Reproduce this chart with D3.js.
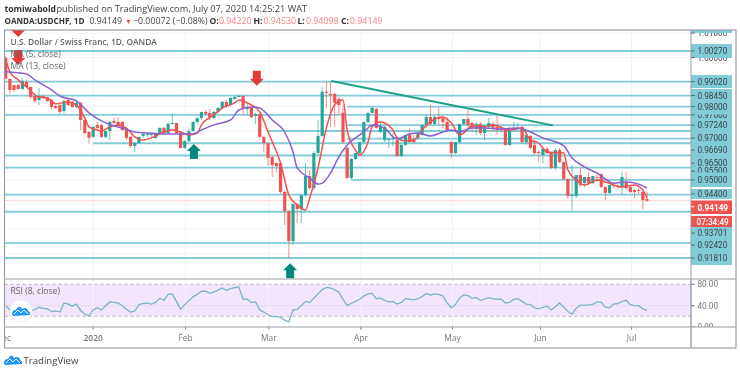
<!DOCTYPE html>
<html><head><meta charset="utf-8">
<script src="https://cdnjs.cloudflare.com/ajax/libs/d3/7.8.5/d3.min.js"></script>
<style>html,body{margin:0;padding:0;background:#fff}svg{display:block;font-family:"Open Sans",sans-serif;filter:blur(0.35px)}</style>
</head><body><svg id="c" width="740" height="373"></svg>
<script>
// Daily candles: open, high, low, close (in 1/10000 of a franc)
const ohlc=[[9999,10007,9913,9913],[9913,9913,9852,9868],[9888,9888,9860,9868],[9888,9892,9868,9872],[9872,9917,9868,9905],[9901,9909,9876,9880],[9880,9880,9831,9839],[9843,9843,9815,9823],[9827,9876,9806,9843],[9843,9847,9831,9839],[9839,9839,9819,9823],[9827,9831,9790,9798],[9802,9806,9790,9794],[9806,9811,9770,9778],[9782,9827,9774,9823],[9827,9835,9802,9806],[9819,9823,9794,9798],[9798,9823,9794,9815],[9815,9819,9704,9745],[9745,9745,9684,9692],[9696,9700,9647,9672],[9676,9721,9672,9717],[9725,9737,9704,9713],[9725,9729,9672,9676],[9676,9700,9672,9700],[9700,9741,9663,9737],[9741,9753,9729,9733],[9737,9757,9717,9721],[9737,9741,9700,9704],[9704,9704,9663,9672],[9676,9680,9631,9639],[9639,9655,9614,9651],[9651,9676,9647,9676],[9680,9696,9672,9688],[9684,9692,9676,9688],[9684,9696,9676,9688],[9672,9692,9668,9692],[9692,9713,9688,9713],[9713,9717,9684,9692],[9692,9737,9688,9729],[9729,9770,9725,9733],[9733,9733,9688,9692],[9692,9692,9627,9631],[9631,9663,9627,9659],[9659,9708,9655,9700],[9700,9741,9696,9737],[9737,9757,9729,9753],[9753,9778,9745,9778],[9778,9786,9766,9770],[9774,9790,9745,9757],[9753,9782,9749,9778],[9778,9799,9774,9794],[9794,9823,9790,9819],[9819,9827,9794,9802],[9806,9839,9802,9835],[9831,9843,9827,9839],[9839,9847,9839,9843],[9843,9847,9766,9795],[9790,9815,9766,9794],[9795,9799,9752,9757],[9762,9774,9729,9770],[9770,9770,9672,9676],[9676,9680,9614,9651],[9651,9651,9558,9590],[9594,9598,9512,9561],[9569,9573,9532,9557],[9569,9573,9443,9451],[9451,9455,9316,9373],[9373,9377,9181,9250],[9250,9402,9234,9402],[9402,9406,9324,9381],[9381,9438,9324,9438],[9438,9569,9430,9516],[9516,9541,9459,9467],[9467,9618,9459,9610],[9610,9745,9602,9680],[9680,9880,9676,9860],[9860,9901,9794,9856],[9852,9905,9717,9847],[9852,9856,9717,9815],[9831,9839,9766,9806],[9774,9806,9647,9655],[9631,9635,9504,9508],[9508,9590,9500,9586],[9586,9610,9582,9610],[9610,9655,9606,9655],[9655,9737,9651,9737],[9737,9774,9733,9774],[9774,9802,9770,9794],[9790,9794,9709,9713],[9696,9733,9692,9717],[9663,9721,9655,9717],[9663,9668,9631,9668],[9668,9692,9639,9672],[9663,9672,9594,9598],[9598,9647,9594,9643],[9643,9684,9639,9684],[9684,9713,9651,9655],[9663,9684,9647,9655],[9672,9700,9663,9692],[9684,9725,9680,9725],[9725,9766,9713,9757],[9757,9807,9723,9729],[9729,9766,9725,9757],[9753,9798,9725,9749],[9753,9757,9712,9737],[9737,9757,9696,9704],[9655,9659,9590,9610],[9610,9655,9606,9655],[9655,9729,9651,9729],[9729,9749,9725,9749],[9749,9786,9717,9725],[9733,9737,9696,9713],[9708,9737,9684,9729],[9729,9737,9684,9692],[9692,9725,9663,9721],[9717,9753,9712,9733],[9729,9737,9696,9713],[9717,9762,9684,9704],[9708,9721,9696,9704],[9708,9712,9639,9643],[9643,9717,9639,9704],[9704,9737,9700,9713],[9708,9733,9704,9712],[9717,9721,9647,9655],[9655,9684,9643,9684],[9680,9684,9627,9631],[9643,9663,9602,9610],[9614,9622,9573,9610],[9602,9627,9569,9627],[9627,9635,9606,9610],[9610,9614,9545,9549],[9549,9631,9541,9622],[9622,9631,9569,9573],[9573,9577,9500,9504],[9504,9508,9422,9434],[9434,9561,9373,9438],[9434,9520,9426,9520],[9520,9549,9471,9479],[9487,9512,9471,9512],[9512,9532,9483,9487],[9487,9516,9483,9516],[9512,9532,9491,9508],[9524,9528,9467,9471],[9471,9475,9418,9447],[9447,9479,9442,9479],[9479,9491,9467,9475],[9475,9483,9463,9471],[9471,9532,9438,9512],[9491,9532,9459,9467],[9471,9475,9447,9451],[9459,9463,9426,9451],[9459,9467,9442,9455],[9451,9455,9381,9418],[9422,9453,9410,9415]];
const ma13Bars=[0,5,7,11,13,17,20,24,28,31,34,38,43,45,47,50,54,56,59,61,62,64,67,69,70,73,75,76,78,80,82,84,85,87,88,91,93,94,97,99,102,105,107,109,112,115,119,123,126,129,134,136,139,142,146,149,152,154];
const ma13Vals=[9942,9933,9909,9868,9843,9823,9774,9733,9712,9696,9692,9688,9688,9688,9704,9725,9745,9786,9798,9794,9782,9745,9696,9614,9549,9508,9483,9487,9528,9594,9643,9672,9684,9712,9725,9712,9676,9668,9688,9692,9680,9696,9704,9696,9712,9712,9708,9712,9696,9672,9639,9590,9553,9528,9487,9492,9483,9467];
const ma5Bars=[0,1,3,5,8,10,12,15,17,19,20,22,23,25,27,29,31,33,35,38,40,42,44,46,47,50,52,55,56,58,61,63,66,68,70,72,73,75,77,79,81,82,84,85,87,88,90,93,94,96,98,100,102,105,107,109,110,112,115,117,121,124,126,128,130,134,135,137,139,142,144,148,151,153,154];
const ma5Vals=[9991,9942,9909,9880,9839,9835,9811,9819,9806,9753,9717,9704,9700,9717,9725,9712,9676,9663,9672,9696,9704,9696,9684,9692,9725,9766,9794,9815,9827,9815,9778,9696,9569,9438,9398,9377,9426,9549,9712,9807,9827,9704,9622,9602,9655,9717,9737,9704,9672,9659,9663,9704,9737,9757,9733,9684,9692,9721,9717,9725,9704,9712,9663,9651,9614,9610,9541,9500,9479,9500,9492,9471,9479,9459,9426];
const rsiVals=[40,32,29,27,26,27,30,33,37,35,34,29,30,28,45,43,39,43,31,24,21,32,36,32,40,47,46,45,40,33,28,30,42,44,45,43,46,54,50,61,62,48,33,42,49,57,61,67,67,63,66,69,73,69,72,74,75,52,52,46,47,32,28,23,19.5,19.5,18,13,9.5,32,33,40,48,46,54,62,70,74,73,70,65,52,40,44,48,52,58,62,63,53,54,50,47,48,43,46,53,52,51,53,57,63,60,62,61,58,45,36,42,54,60,59,54,55,50,52,55,53,52,52,45,46,52,53,48,43,42,36,34,37,39,32,38,45,37,29,24,35,41,41,41,43,47,46,37,36,43,44,48,50,42,40,40,34,31];
const levelPrices=[10027,9902,9845,9800,9766,9724,9700,9669,9650,9600,9550,9500,9440,9370,9242,9181];
const levelStartBars=[0,0,0,82,0,82,63,82,21,0,0,83,0,0,0,0];
const gridPrices=[10100,10000,9900,9800,9700,9600,9500,9400,9300,9200];
const axisLabels=["1.01000","1.00000","0.97660","0.95500","1.00270","0.99020","0.98450","0.98000","0.97240","0.97000","0.96690","0.96500","0.95000","0.94400","0.93701","0.92420","0.91810"];
const axisLabelAt=[10100,10000,9766,9536,10027,9902,9845,9800,9724,9671,9622,9569,9500,9443,9283,9234,9181];
const timeLabels=["Dec","2020","Feb","Mar","Apr","May","Jun","Jul"];
const timeBars=[-0.5,21,43.2,63.2,85.3,107.3,128.4,150.3];
const rsiTicks=[80,40,0];
const downArrowBars=[3,3,60.3], downArrowPrices=[10084,9970,9885];
const upArrowBars=[45.2,68.3], upArrowPrices=[9647,9160];
const trendBars=[78.2,131.4], trendPrices=[9904,9723];
const lastPrice=9414.9;

const L={left:4.5,right:736,axis:691,top:30,sep:279,rsiBottom:327,bottom:348};
const TEAL="#82cbd9",RED="#ef5350",GREEN="#26a69a",ARROWG="#00897b",GRID="#eef4f7",FRAME="#9a9da6";
const AXF='Roboto,sans-serif';
const svg=d3.select("#c");
const defs=svg.append("defs");
defs.append("clipPath").attr("id","mainClip").append("rect").attr("x",L.left).attr("y",L.top).attr("width",L.axis-L.left).attr("height",L.sep-L.top);
defs.append("clipPath").attr("id","timeClip").append("rect").attr("x",L.left).attr("y",L.rsiBottom).attr("width",L.axis-L.left).attr("height",L.bottom-L.rsiBottom);
defs.append("clipPath").attr("id","axisClip").append("rect").attr("x",L.axis).attr("y",L.top).attr("width",L.right-L.axis).attr("height",L.sep-L.top);
defs.append("clipPath").attr("id","rsiAxisClip").append("rect").attr("x",L.axis).attr("y",L.sep).attr("width",L.right-L.axis).attr("height",L.rsiBottom-L.sep);

const x=d3.scaleLinear().domain([0,ohlc.length-1]).range([5.7,647]);
const y=d3.scaleLinear().domain([10027,9181]).range([51,258]);
const yR=d3.scaleLinear().domain([80,0]).range([284.3,327]);

// header
const h=svg.append("g").attr("font-size",9.2).attr("fill","#444");
function tx(g,s,px,py,o={}){const t=g.append("text").attr("x",px).attr("y",py).text(s);Object.entries(o).forEach(([k,v])=>t.attr(k,v));return t;}
tx(h,"tomiwabold",4.5,11.5,{"font-weight":700,fill:"#333","font-size":8.6});
tx(h,"published on TradingView.com, July 07, 2020 14:25:21 WAT",56.5,11.5);
tx(h,"OANDA:USDCHF, 1D",4.5,23.5,{"font-weight":700,fill:"#333","font-size":8.1});
tx(h,"0.94149",89.5,23.5,{"font-size":8.8});
tx(h,"▼",125,23.5,{fill:"#ef5350","font-size":7});
tx(h,"−0.00072 (−0.08%)",133,23.5,{"font-size":8.8});
[["O:",209.5,"0.94220",219],["H:",253.5,"0.94530",263.5],["L:",297.5,"0.94098",306],["C:",341,"0.94149",350]].forEach(d=>{
  tx(h,d[0],d[1],23.5,{"font-weight":700,fill:"#333","font-size":8.6});tx(h,d[2],d[3],23.5,{fill:"#fb7f7f","font-size":8.8});
});

// panes: RSI band, grid
const band=svg.append("g");
band.append("rect").attr("x",L.left).attr("width",L.axis-L.left).attr("y",yR(80)).attr("height",yR(20)-yR(80)).attr("fill","#f3e6fc");
const grid=svg.append("g").attr("stroke",GRID).attr("stroke-width",1);
grid.selectAll("line.v").data(timeBars.slice(1)).join("line").attr("x1",d=>x(d)).attr("x2",d=>x(d)).attr("y1",L.top).attr("y2",L.rsiBottom);
grid.selectAll("line.h").data(gridPrices).join("line").attr("x1",L.left).attr("x2",L.axis).attr("y1",d=>y(d)).attr("y2",d=>y(d));
band.append("line").attr("x1",L.left).attr("x2",L.axis).attr("y1",yR(40)).attr("y2",yR(40)).attr("stroke","#e6daf2");
[80,20].forEach(v=>band.append("line").attr("x1",L.left).attr("x2",L.axis).attr("y1",yR(v)).attr("y2",yR(v)).attr("stroke","#b5adb9").attr("stroke-dasharray","3 3"));

const main=svg.append("g").attr("clip-path","url(#mainClip)");
// horizontal levels
main.selectAll("line.l").data(levelPrices).join("line")
 .attr("x1",(d,i)=>levelStartBars[i]===0?L.left:x(levelStartBars[i])).attr("x2",L.axis)
 .attr("y1",d=>y(d)).attr("y2",d=>y(d)).attr("stroke",TEAL).attr("stroke-width",1.8);
// last price
main.append("line").attr("x1",L.left).attr("x2",L.axis).attr("y1",y(lastPrice)).attr("y2",y(lastPrice)).attr("stroke","#f6a5a3").attr("stroke-width",1).attr("stroke-dasharray","1 1");
// candles
const col=d=>d[3]>=d[0]?GREEN:RED;
main.selectAll("line.w").data(ohlc).join("line").attr("x1",(d,i)=>x(i)).attr("x2",(d,i)=>x(i)).attr("y1",d=>y(d[1])).attr("y2",d=>y(d[2])).attr("stroke",col).attr("stroke-opacity",.65).attr("stroke-width",1);
main.selectAll("rect.b").data(ohlc).join("rect").attr("x",(d,i)=>x(i)-1.6).attr("width",3.2).attr("y",d=>y(Math.max(d[0],d[3]))).attr("height",d=>Math.max(1,Math.abs(y(d[0])-y(d[3])))).attr("fill",col);
// moving averages
const ml=(bars,vals)=>d3.line().x((d,i)=>x(bars[i])).y(d=>y(d)).curve(d3.curveMonotoneX)(vals);
main.append("path").attr("d",ml(ma5Bars,ma5Vals)).attr("fill","none").attr("stroke","#f0524f").attr("stroke-width",1.5);
main.append("path").attr("d",ml(ma13Bars,ma13Vals)).attr("fill","none").attr("stroke","#8a5fcf").attr("stroke-width",1.5);
// trend line
main.append("line").attr("x1",x(trendBars[0])).attr("x2",x(trendBars[1])).attr("y1",y(trendPrices[0])).attr("y2",y(trendPrices[1])).attr("stroke","#1fa088").attr("stroke-width",2);
// arrows
function arrowD(dir){return dir>0?"M0,0 L-7,-7 L-4,-7 L-4,-15 L4,-15 L4,-7 L7,-7 Z":"M0,0 L-7,7 L-4,7 L-4,15 L4,15 L4,7 L7,7 Z";}
main.selectAll("path.dn").data(downArrowBars).join("path").attr("transform",(d,i)=>`translate(${x(d)},${y(downArrowPrices[i])})`).attr("d",arrowD(1)).attr("fill","#e53935");
main.selectAll("path.up").data(upArrowBars).join("path").attr("transform",(d,i)=>`translate(${x(d)},${y(upArrowPrices[i])})`).attr("d",arrowD(-1)).attr("fill",ARROWG);
// pane legends
const lg=svg.append("g").attr("font-size",8.6).attr("fill","#666");
tx(lg,"U.S. Dollar / Swiss Franc, 1D, OANDA",10.5,45,{"font-weight":600,"font-size":8.4});
tx(lg,"MA (5, close)",10.5,57);
tx(lg,"MA (13, close)",10.5,69);
tx(lg,"RSI (8, close)",10.5,294);
// RSI line
svg.append("path").attr("d",d3.line().x((d,i)=>x(i)).y(d=>yR(d))(rsiVals)).attr("fill","none").attr("stroke","#7ab4cb").attr("stroke-width",1.3);
// RSI logo
const logoG=svg.append("g");
logoG.append("circle").attr("cx",21).attr("cy",311).attr("r",11).attr("fill","#fff").attr("stroke","#f0f0f0");
const cloud="M-9,3 Q-9,-1 -5,-1 L-3,-4 Q0,-5 1,-2 L3,-3 Q7,-3 7,0 Q10,1 9,4 L-7,5 Q-9,5 -9,3 Z";
logoG.append("path").attr("d",cloud).attr("transform","translate(21,311)").attr("fill","#2196f3");
logoG.append("path").attr("d","M-7,3 L-3,-1 L0,2 L3,-1 L7,3").attr("transform","translate(21,311)").attr("fill","none").attr("stroke","#fff").attr("stroke-width",1);

// price axis
const ax=svg.append("g").attr("clip-path","url(#axisClip)").attr("font-size",8.2).attr("font-family",AXF).attr("fill","#3d3f45");
[[30,33],[44,58],[75,88],[89,187],[189,199],[227,265]].forEach(b=>ax.append("rect").attr("x",L.axis).attr("width",41).attr("y",b[0]).attr("height",b[1]-b[0]).attr("fill",TEAL));
axisLabels.slice(0,4).forEach((s,i)=>tx(ax,s,697.5,y(axisLabelAt[i])+3));
[[30,33],[44,58],[108,114.5],[172.5,180]].forEach(b=>ax.append("rect").attr("x",L.axis).attr("width",41).attr("y",b[0]).attr("height",b[1]-b[0]).attr("fill",TEAL));
ax.selectAll("line.t").data(axisLabelAt).join("line").attr("x1",L.axis).attr("x2",L.axis+3.5).attr("y1",d=>y(d)).attr("y2",d=>y(d)).attr("stroke","#55585f");
axisLabels.slice(4).forEach((s,i)=>tx(ax,s,697.5,y(axisLabelAt[i+4])+3));
ax.append("rect").attr("x",L.axis).attr("width",41).attr("y",200.5).attr("height",13.5).attr("fill",RED);
tx(ax,"0.94149",697.5,210.5,{fill:"#fff","font-weight":700});
ax.append("rect").attr("x",L.axis).attr("width",41).attr("y",216).attr("height",11).attr("fill",RED);
tx(ax,"07:34:49",696.5,224.5,{fill:"#fff","font-weight":500});
ax.append("line").attr("x1",L.axis).attr("x2",L.axis+3.5).attr("y1",y(lastPrice)+6).attr("y2",y(lastPrice)+6).attr("stroke","#fff");
// RSI axis
const rax=svg.append("g").attr("clip-path","url(#rsiAxisClip)").attr("font-size",8.2).attr("font-family",AXF).attr("fill","#777");
rax.selectAll("text").data(rsiTicks).join("text").attr("x",697.5).attr("y",d=>yR(d)+3).text(d=>d.toFixed(2));
rax.selectAll("line").data(rsiTicks).join("line").attr("x1",L.axis).attr("x2",L.axis+3.5).attr("y1",d=>yR(d)).attr("y2",d=>yR(d)).attr("stroke","#666");
// time axis
const tg=svg.append("g").attr("clip-path","url(#timeClip)").attr("font-size",8.4).attr("fill","#777").attr("text-anchor","middle");
tg.selectAll("text").data(timeLabels).join("text").attr("x",(d,i)=>x(timeBars[i])).attr("y",341).text(d=>d).attr("font-weight",d=>d==="2020"?600:400);
tg.selectAll("line").data(timeBars).join("line").attr("x1",d=>x(d)).attr("x2",d=>x(d)).attr("y1",L.rsiBottom).attr("y2",L.rsiBottom+2.5).attr("stroke","#777");
// frame
const fr=svg.append("g").attr("stroke",FRAME).attr("fill","none");
fr.append("rect").attr("x",L.left).attr("y",L.top).attr("width",L.right-L.left).attr("height",L.bottom-L.top).attr("stroke-width",1.2);
fr.append("line").attr("x1",L.left).attr("x2",L.right).attr("y1",L.sep).attr("y2",L.sep).attr("stroke-width",1.2);
fr.append("line").attr("x1",L.left).attr("x2",L.right).attr("y1",L.rsiBottom).attr("y2",L.rsiBottom).attr("stroke-width",1.2);
fr.append("line").attr("x1",L.axis).attr("x2",L.axis).attr("y1",L.sep).attr("y2",L.bottom).attr("stroke-width",1.4);
fr.append("line").attr("x1",L.axis).attr("x2",L.axis).attr("y1",L.top).attr("y2",L.sep).attr("stroke-width",1);
// brand
const br=svg.append("g");
br.append("path").attr("d",cloud).attr("transform","translate(13,360)").attr("fill","#2196f3");
br.append("path").attr("d","M-7,3 L-3,-1 L0,2 L3,-1 L7,3").attr("transform","translate(13,360)").attr("fill","none").attr("stroke","#fff").attr("stroke-width",1);
tx(br,"TradingView",23.5,364,{"font-size":9.6,fill:"#444"});
</script></body></html>
